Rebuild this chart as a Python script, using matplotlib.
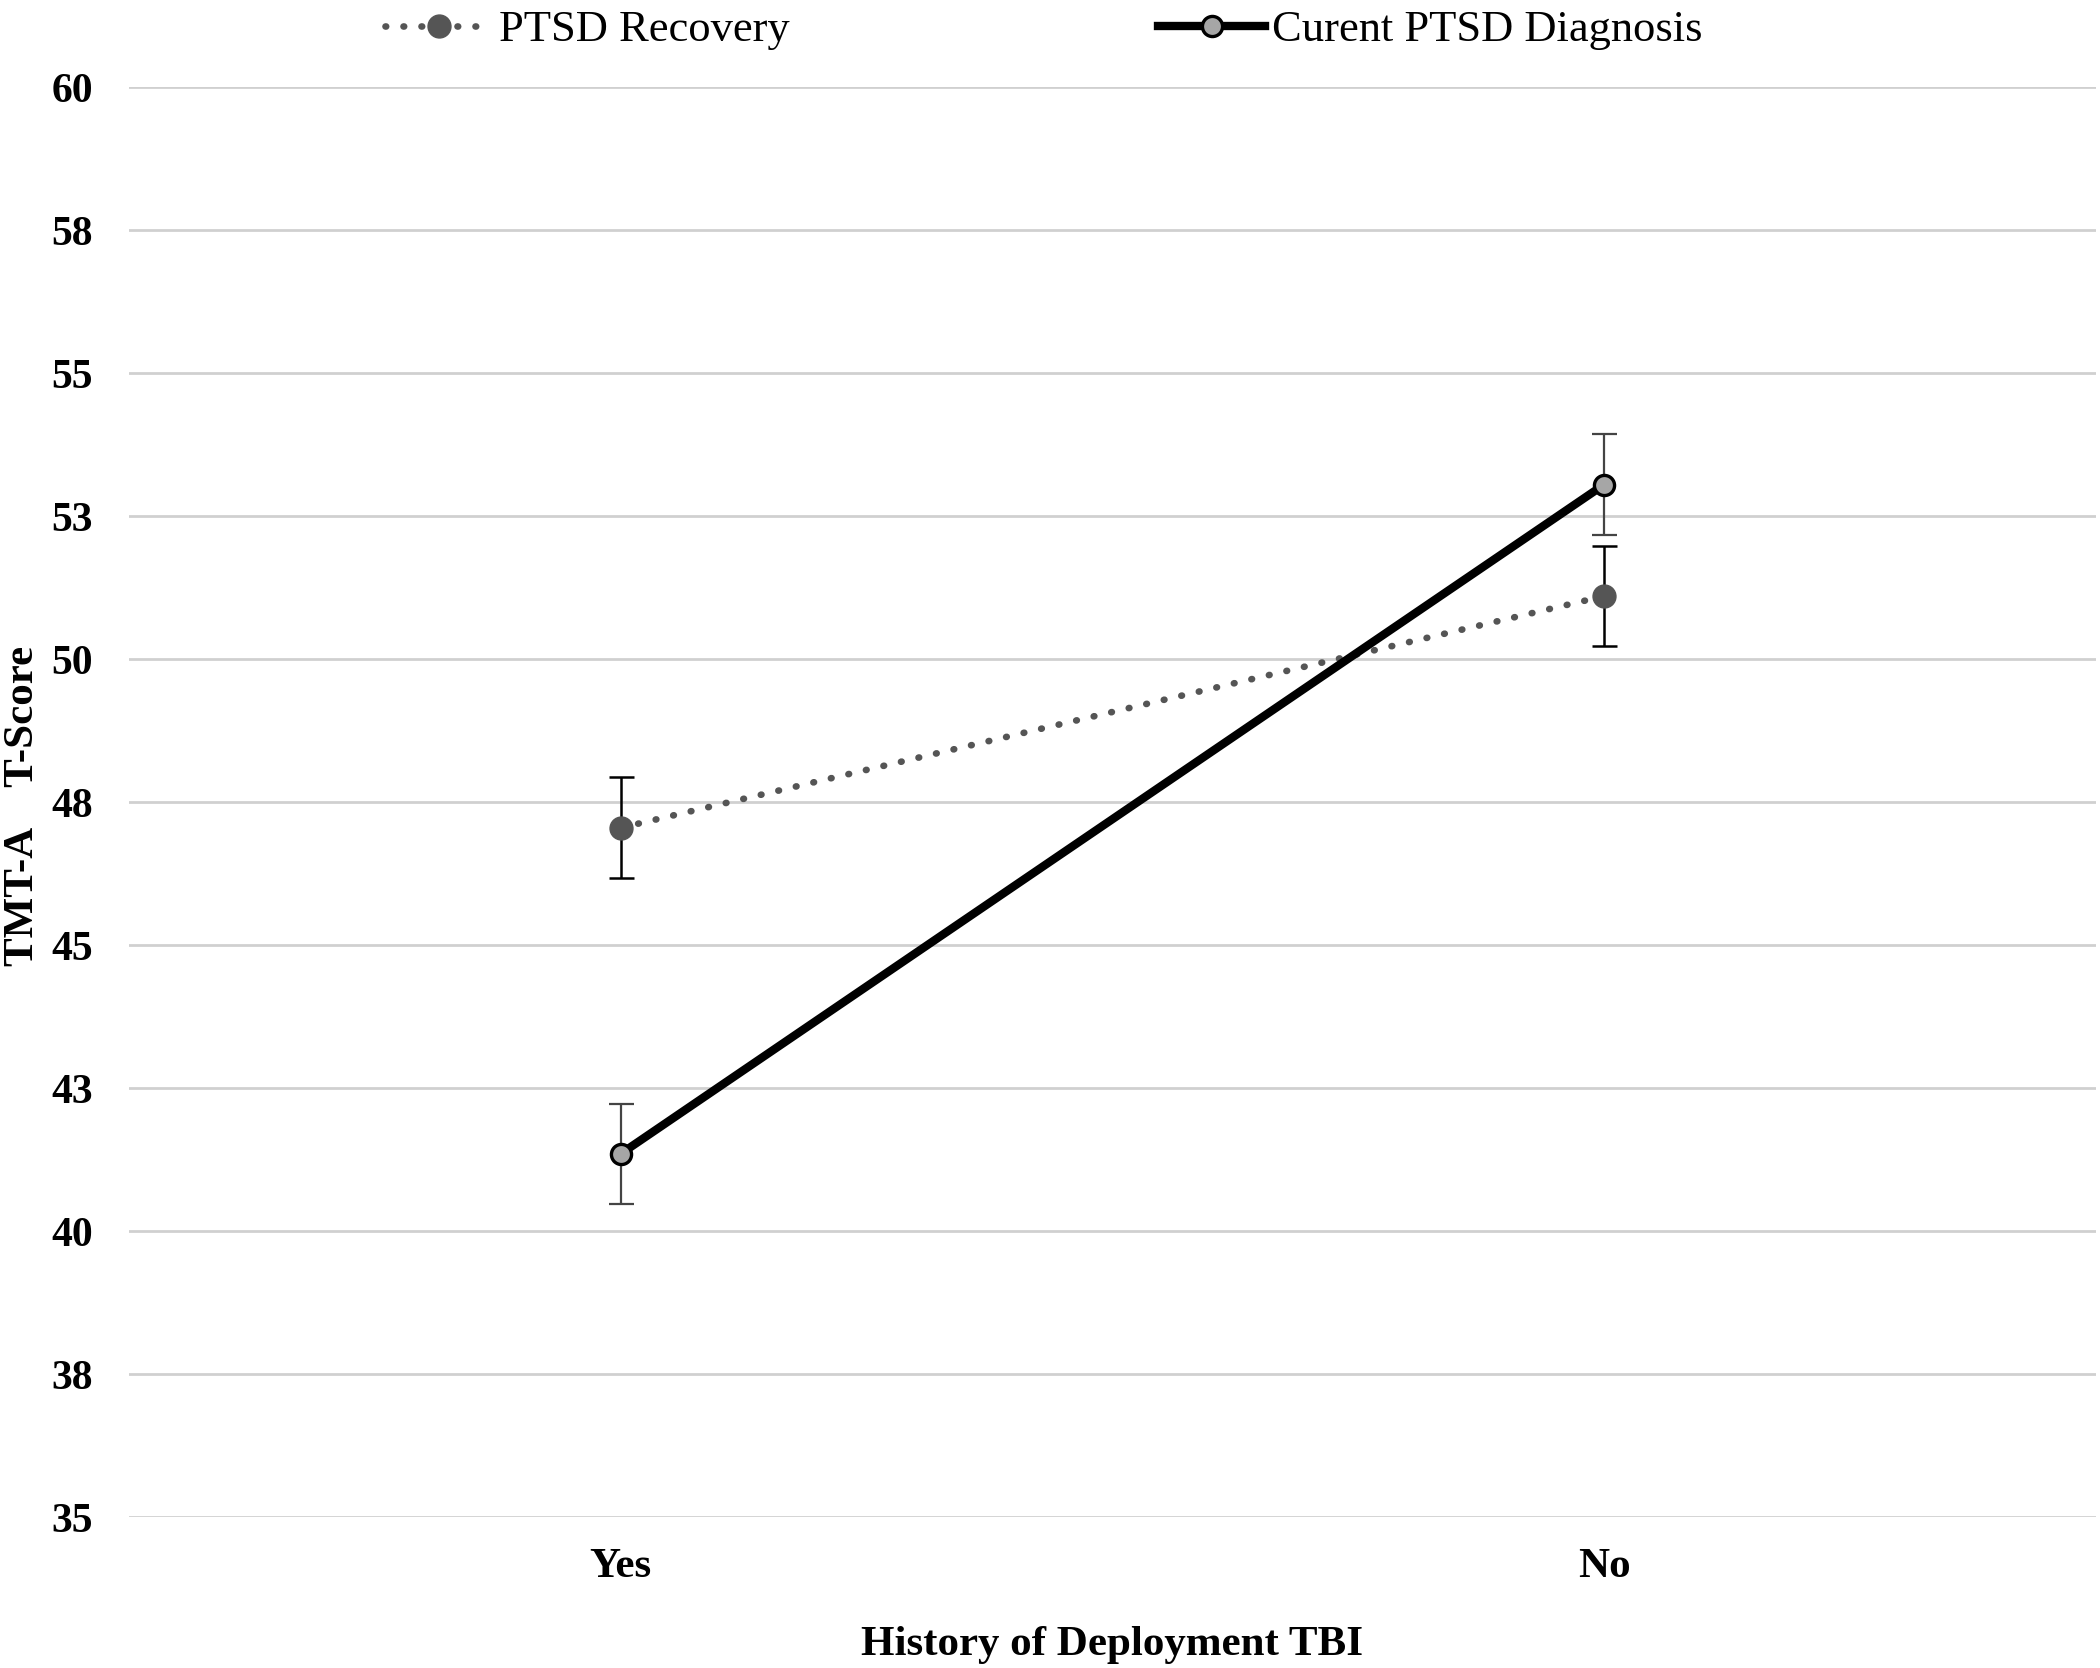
import matplotlib.pyplot as plt

# data
groups = ['Yes', 'No']
recovery = [47.05, 51.1]
recovery_err = [0.88, 0.88]
current = [41.35, 53.05]
current_err = [0.87, 0.88]
yticks = [35, 37.5, 40, 42.5, 45, 47.5, 50, 52.5, 55, 57.5, 60]
ytick_labels = ['35', '38', '40', '43', '45', '48', '50', '53', '55', '58', '60']

plt.rcParams['font.family'] = ['Liberation Serif', 'DejaVu Serif']

fig = plt.figure(figsize=(21, 16.68), dpi=100)
ax = fig.add_axes([0.0614, 0.0905, 0.9366, 0.8573])

x = [0.5, 1.5]
ax.errorbar(x, recovery, yerr=recovery_err, fmt='none', ecolor='black',
            elinewidth=1.8, capsize=9, capthick=1.8, zorder=3)
ax.errorbar(x, current, yerr=current_err, fmt='none', ecolor='#444444',
            elinewidth=1.6, capsize=9, capthick=1.6, zorder=3)
l1, = ax.plot(x, recovery, linestyle=(0, (0.1, 2.6)), color='#555555', linewidth=4.8,
              dash_capstyle='round', marker='o', markersize=16.5,
              markerfacecolor='#555555', markeredgecolor='#555555', zorder=4,
              label='PTSD Recovery')
l2, = ax.plot(x, current, linestyle='-', color='black', linewidth=6,
              marker='o', markersize=14.5, markerfacecolor='#a6a6a6',
              markeredgecolor='black', markeredgewidth=2.4, zorder=5,
              label='Curent PTSD Diagnosis')

ax.set_xlim(0, 2)
ax.set_ylim(35, 60)
ax.set_xticks(x)
ax.set_xticklabels(groups, fontsize=31, fontweight='bold')
ax.set_yticks(yticks)
ax.set_yticklabels(ytick_labels, fontsize=30, fontweight='bold')
ax.tick_params(axis='x', length=0, pad=22)
ax.tick_params(axis='y', length=0, pad=26)
ax.grid(axis='y', color='#d0d0d0', linewidth=2)
ax.set_axisbelow(True)
for s in ax.spines.values():
    s.set_visible(False)

fig.text(0.5295, 0.014, 'History of Deployment TBI', fontsize=31, fontweight='bold',
         ha='center', va='center')
fig.text(0.011, 0.517, 'TMT-A    T-Score', fontsize=31, fontweight='bold',
         ha='center', va='center', rotation=90)

fig.legend(handles=[l1, l2], loc='upper center', bbox_to_anchor=(0.497, 1.018),
           ncol=2, frameon=False, fontsize=32, columnspacing=8.3,
           handlelength=2.4, handletextpad=0.15)

fig.savefig('out.png', dpi=100)
